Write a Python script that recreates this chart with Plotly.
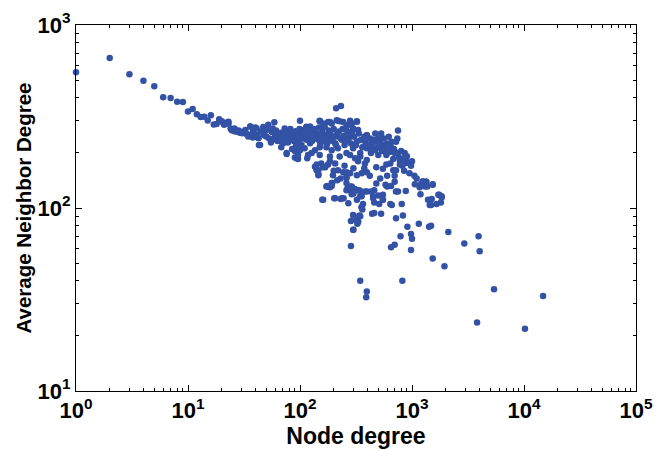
import plotly.graph_objects as go

# (node degree, average neighbor degree)
low_degree_points = [
    (1, 552), (2, 660), (3, 538), (4, 496), (5, 462), (6, 403), (7, 399), (8, 381), (9, 379),
    (10, 337), (11, 347), (12, 325), (13, 314), (14, 315), (15, 301), (16, 321), (17, 286),
    (18, 288), (19, 305), (20, 298), (21, 285), (22, 292), (23, 290), (19, 300), (20, 296),
    (22, 290), (23, 296),
]

band_points = [
    (24, 272), (25, 265), (26, 272), (27, 263), (28, 262), (29, 258), (24.5, 267), (26.3, 262),
    (28.3, 265), (30, 260), (32, 258), (34.5, 251), (37, 246), (38, 260), (41, 251), (42.5, 241),
    (36, 279), (40, 275), (47, 277), (52, 285), (59, 294), (47, 256), (50, 246), (56, 260),
    (60, 251), (64, 246), (69, 236), (71, 226), (30.5, 256), (32.5, 267), (33.5, 253), (34.5, 246),
    (36, 279), (37, 249), (38, 243), (40, 251), (41, 272), (42.5, 241), (43, 221), (44, 221),
    (58, 238), (55, 228), (62, 245), (66, 232), (70, 250),
    (45, 262), (48, 250), (51, 268), (53, 240), (57, 272), (61, 265), (63, 232), (67, 258),
]

cluster_points = [
    (73, 272), (81, 262), (89, 251), (96, 256), (103, 267), (114, 278), (123, 275), (100, 300),
    (75, 240), (78, 228), (84, 245), (88, 232), (92, 218), (98, 240), (85, 210), (90, 205),
    (68, 215), (80, 258), (76, 200), (93, 187), (96, 195), (116, 187), (127, 200), (136, 207),
    (150, 215), (141, 173), (146, 161), (161, 167), (185, 180), (206, 175), (218, 161), (243, 157),
    (260, 148), (150, 298), (185, 295), (218, 300), (243, 295), (270, 285), (290, 290), (322, 298),
    (395, 250), (172, 131), (185, 131), (260, 125), (290, 131), (290, 120), (322, 111), (345, 116),
    (365, 105), (161, 111), (206, 113), (236, 113),
    (100, 256), (107, 246), (114, 236), (103, 221), (110, 212), (123, 226), (130, 246), (136, 262),
    (146, 236), (155, 251), (168, 231), (172, 215), (185, 241), (192, 207), (206, 226), (213, 251),
    (218, 212), (236, 236), (250, 221), (260, 200), (280, 246), (298, 212), (322, 231), (345, 200),
    (365, 236), (395, 212), (430, 200), (440, 226), (470, 207), (500, 195), (185, 191), (150, 195),
    (226, 191), (310, 187), (395, 183), (118, 195), (100, 207),
    (210, 351), (232, 361), (114, 275), (123, 279), (150, 300), (161, 290), (178, 295), (192, 290),
    (213, 302), (226, 298), (280, 300), (322, 296), (260, 278), (298, 272), (330, 267), (395, 250),
    (455, 236),
    (72, 245), (74, 262), (77, 252), (79, 236), (82, 270), (86, 255), (87, 240), (91, 263),
    (94, 248), (97, 230), (99, 270), (105, 240), (108, 260), (111, 250), (117, 268), (120, 242),
    (125, 255), (128, 232), (133, 270), (138, 240), (143, 255), (148, 275), (152, 225), (158, 262),
    (163, 240), (166, 278), (170, 250), (175, 225), (180, 265), (188, 252), (195, 232), (200, 270),
    (204, 245), (210, 220), (222, 262), (228, 242), (240, 270), (246, 248), (255, 232), (265, 262),
    (272, 240), (285, 225), (292, 260), (305, 245), (315, 220), (335, 255), (350, 235), (360, 215),
    (375, 245), (385, 228), (410, 220), (420, 240), (445, 210), (460, 230), (490, 215),
]

right_points = [
    (750, 265), (740, 240), (520, 236), (550, 221), (640, 203), (780, 180), (830, 186), (920, 178),
    (590, 173), (720, 161), (950, 155), (1050, 150), (1340, 139), (1530, 135), (1310, 131),
    (1750, 118), (1840, 114), (1660, 105), (1480, 104), (480, 167), (550, 164), (680, 161),
    (780, 173), (890, 176), (1210, 136), (530, 255), (560, 240), (600, 225), (620, 245), (650, 215),
    (700, 200), (760, 190), (720, 230), (680, 185), (590, 195), (640, 175), (560, 205), (520, 220),
    (500, 240), (470, 255), (860, 200), (900, 192), (1000, 180), (820, 170), (1390, 111),
    (510, 230), (540, 205), (570, 215), (610, 205), (660, 230), (690, 210), (740, 200), (800, 205),
    (850, 185), (980, 170),
]

lower_points = [
    (141, 162), (146, 151), (178, 131), (185, 130), (260, 146), (280, 128), (310, 125), (355, 116),
    (450, 113), (550, 111), (640, 105), (355, 101), (158, 111), (175, 132), (185, 131), (194, 137),
    (202, 113), (231, 112), (245, 113), (270, 106), (265, 128), (280, 125), (290, 119), (310, 127),
    (340, 125), (355, 101), (360, 98), (300, 91), (340, 91), (285, 85), (330, 84), (325, 82),
    (300, 76), (285, 62), (345, 40), (395, 35), (390, 32.5), (395, 123), (430, 123), (460, 125),
    (480, 136), (450, 116), (460, 107), (500, 117), (510, 105), (550, 118), (550, 111), (440, 93),
    (460, 94), (530, 93), (580, 134), (600, 131), (650, 132), (700, 139), (720, 123), (750, 123),
    (660, 104), (810, 105), (720, 88), (830, 91), (880, 124), (1060, 135), (1170, 130), (1290, 137),
    (1340, 139), (1370, 131), (1530, 134), (1190, 119), (1440, 104), (1500, 112), (1720, 118),
    (1840, 116), (1810, 107), (910, 79), (1150, 82), (790, 70), (1000, 68), (980, 72), (650, 61),
    (700, 63), (980, 59), (1420, 79), (1480, 80), (820, 40),
    (76, 197), (90, 189), (96, 185), (136, 168), (141, 161), (146, 153), (155, 175), (168, 167),
    (178, 173), (197, 151), (192, 137), (178, 131), (192, 132), (215, 142), (260, 137), (280, 131),
    (290, 123), (300, 120), (322, 125), (345, 123), (380, 123), (260, 157), (280, 155), (322, 151),
    (355, 155), (395, 157), (298, 91.6), (322, 86), (345, 90), (330, 84), (298, 76), (280, 195),
    (345, 191), (380, 175),
    (200, 160), (230, 145), (250, 170), (300, 165), (330, 180), (375, 165), (420, 150), (520, 145),
    (600, 150), (700, 150), (850, 160), (1100, 145), (1250, 140),
]

tail_points = [
    (2110, 74), (2930, 64), (3930, 70), (4020, 58), (1530, 53), (1950, 48), (5400, 36),
    (14800, 33), (3810, 23.7), (10200, 21.9),
]

x_tick_values = [1, 10, 100, 1000, 10000, 100000]
x_tick_labels = ["10<sup>0</sup>", "10<sup>1</sup>", "10<sup>2</sup>", "10<sup>3</sup>",
                 "10<sup>4</sup>", "10<sup>5</sup>"]
y_tick_values = [10, 100, 1000]
y_tick_labels = ["10<sup>1</sup>", "10<sup>2</sup>", "10<sup>3</sup>"]

all_points = (low_degree_points + band_points + cluster_points + right_points
              + lower_points + tail_points)
node_degree = [p[0] for p in all_points]
avg_neighbor_degree = [p[1] for p in all_points]

FONT = "Liberation Sans, Arial, Helvetica, sans-serif"

fig = go.Figure()
fig.add_trace(go.Scatter(
    x=node_degree, y=avg_neighbor_degree, mode="markers",
    marker=dict(size=6.5, color="#3352a5", line=dict(width=0)),
    showlegend=False, cliponaxis=False,
))

axis_common = dict(
    type="log", showgrid=False, zeroline=False, showline=True, linecolor="black",
    linewidth=1, mirror="ticks", ticks="inside", ticklen=6, tickcolor="black",
    automargin=False,
    tickfont=dict(family=FONT, size=22, color="black", weight="bold"),
    minor=dict(ticks="inside", ticklen=3, tickcolor="black", dtick="D1", showgrid=False),
)

fig.update_xaxes(
    range=[0, 5], tickmode="array", tickvals=x_tick_values, ticktext=x_tick_labels,
    title=dict(text="<b>Node degree</b>", font=dict(family=FONT, size=23, color="black"),
               standoff=3),
    **axis_common,
)
fig.update_yaxes(
    range=[1, 3], tickmode="array", tickvals=y_tick_values, ticktext=y_tick_labels,
    title=dict(text="<b>Average Neighbor Degree</b>", font=dict(family=FONT, size=20.5, color="black"),
               standoff=0),
    **axis_common,
)

fig.update_layout(
    width=665, height=450,
    margin=dict(l=76, r=29, t=25, b=59),
    plot_bgcolor="white", paper_bgcolor="white",
)

fig.write_html("out.html")
